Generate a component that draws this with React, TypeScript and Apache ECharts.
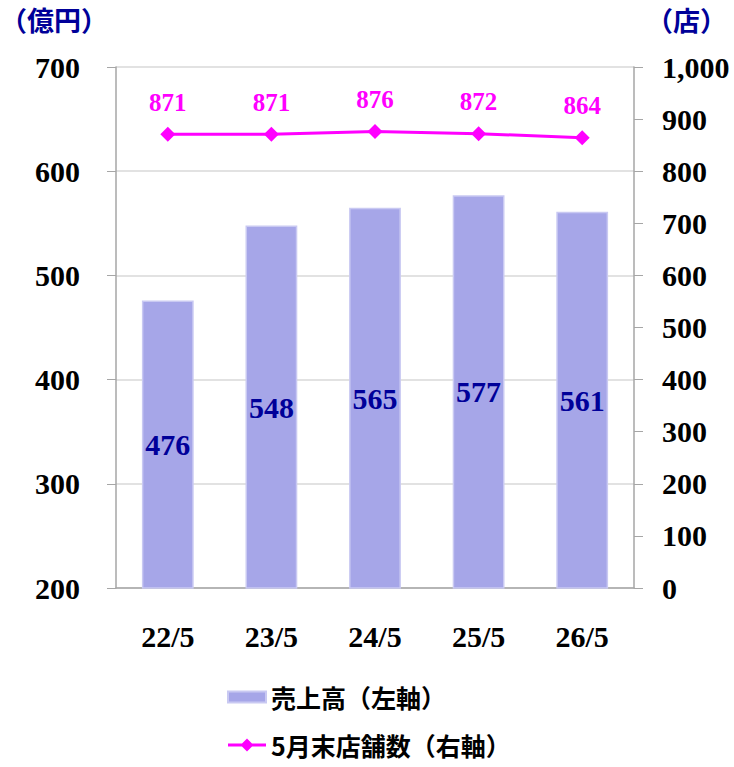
import React, { useEffect, useRef } from "react";
import * as echarts from "echarts";

const categories = ["22/5", "23/5", "24/5", "25/5", "26/5"];
const salesValues = [476, 548, 565, 577, 561];
const storeValues = [871, 871, 876, 872, 864];
const salesName = "売上高（左軸）";
const storeName = "5月末店舗数（右軸）";
const leftUnit = "（億円）";
const rightUnit = "（店）";

const SERIF = "'Liberation Serif', 'Times New Roman', serif";
const GOTHIC = "'Noto Sans CJK JP', 'Noto Sans', sans-serif";
const NAVY = "#000099";
const MAGENTA = "#ff00ff";

// Legend keys: a flat swatch for the bars, a line with a diamond for the store count
const BAR_ICON = "path://M0,1.5L38,1.5L38,12.5L0,12.5Z";
const LINE_ICON =
  "path://M0,5.5L38,5.5L38,8.5L0,8.5Z M19,0.5L25.5,7L19,13.5L12.5,7Z";

export default function App() {
  const ref = useRef<HTMLDivElement>(null);

  useEffect(() => {
    if (!ref.current) return;
    const chart = echarts.init(ref.current, undefined, { renderer: "svg" });
    const axisLabel = {
      color: "#000",
      fontFamily: SERIF,
      fontWeight: "bold" as const,
      fontSize: 30,
    };
    chart.setOption({
      animation: false,
      backgroundColor: "#fff",
      grid: { left: 116, right: 100, top: 67, bottom: 179 },
      legend: {
        orient: "vertical",
        left: 227,
        top: 682,
        padding: 0,
        itemWidth: 38,
        itemHeight: 14,
        itemGap: 18,
        textStyle: {
          color: "#000",
          fontFamily: GOTHIC,
          fontWeight: "bold",
          fontSize: 25,
          lineHeight: 30,
        },
        data: [
          { name: salesName, icon: BAR_ICON },
          { name: storeName, icon: LINE_ICON },
        ],
      },
      graphic: [
        {
          type: "text",
          left: 0,
          top: 6,
          style: { text: leftUnit, fill: NAVY, font: `bold 27px ${GOTHIC}` },
        },
        {
          type: "text",
          left: 646,
          top: 6,
          style: { text: rightUnit, fill: NAVY, font: `bold 27px ${GOTHIC}` },
        },
      ],
      xAxis: {
        type: "category",
        data: categories,
        axisLine: { lineStyle: { color: "#a6a6a6", width: 1.5 } },
        axisTick: { inside: true, length: 8, lineStyle: { color: "#a6a6a6" } },
        axisLabel: { ...axisLabel, margin: 33 },
      },
      yAxis: [
        {
          type: "value",
          min: 200,
          max: 700,
          interval: 100,
          axisLine: { show: true, lineStyle: { color: "#a6a6a6", width: 1.5 } },
          axisTick: { show: true, length: 9, lineStyle: { color: "#a6a6a6" } },
          splitLine: { lineStyle: { color: "#d9d9d9", width: 1.5 } },
          axisLabel: { ...axisLabel, margin: 36 },
        },
        {
          type: "value",
          min: 0,
          max: 1000,
          interval: 100,
          position: "right",
          axisLine: { show: true, lineStyle: { color: "#a6a6a6", width: 1.5 } },
          axisTick: { show: true, length: 9, lineStyle: { color: "#a6a6a6" } },
          splitLine: { show: false },
          axisLabel: {
            ...axisLabel,
            margin: 28,
            formatter: (v: number) => v.toLocaleString("en-US"),
          },
        },
      ],
      series: [
        {
          name: salesName,
          type: "bar",
          data: salesValues,
          yAxisIndex: 0,
          barWidth: "50%",
          itemStyle: { color: "#a6a6e8", borderColor: "#c9c9f2", borderWidth: 1.5 },
          label: {
            show: true,
            position: "inside",
            color: NAVY,
            fontFamily: SERIF,
            fontWeight: "bold",
            fontSize: 30,
          },
          z: 2,
        },
        {
          name: storeName,
          type: "line",
          data: storeValues,
          yAxisIndex: 1,
          symbol: "diamond",
          symbolSize: 15,
          lineStyle: { color: MAGENTA, width: 3 },
          itemStyle: { color: MAGENTA },
          label: {
            show: true,
            position: "top",
            distance: 12,
            color: MAGENTA,
            fontFamily: SERIF,
            fontWeight: "bold",
            fontSize: 25,
          },
          z: 3,
        },
      ],
    });
    return () => chart.dispose();
  }, []);

  return (
    <div
      ref={ref}
      style={{ position: "fixed", left: 0, top: 0, width: 734, height: 767 }}
    />
  );
}
